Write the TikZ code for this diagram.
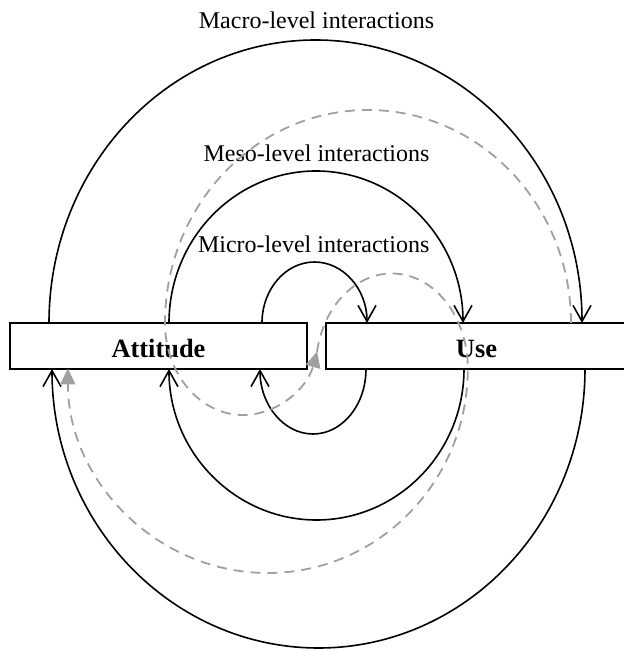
\documentclass[tikz,border=0pt]{standalone}
\usepackage{fontspec}
\setmainfont{Liberation Serif}
\usetikzlibrary{arrows.meta}
\definecolor{dashgray}{RGB}{160,160,160}
\begin{document}
\begin{tikzpicture}[x=0.5pt,y=0.5pt,
  box/.style={draw,line width=0.85pt,fill=white,minimum height=23pt,inner sep=0pt,
    font=\fontsize{13.2}{15}\selectfont\bfseries,text height=11.8pt,text depth=0pt},
  lvl/.style={anchor=base,font=\fontsize{12}{14}\selectfont,inner sep=0pt},
  link/.style={line width=0.8pt,-{Straight Barb[length=8pt,width=9pt]}},
  flow/.style={line width=0.9pt,draw=dashgray,dash pattern=on 5pt off 3.5pt,
    -{Triangle[length=8pt,width=7.5pt]}}]
\useasboundingbox (0,0) rectangle (624,650);

% boxes
\node[box,minimum width=148.5pt] (att) at (158.5,304) {Attitude};
\node[box,minimum width=150.5pt] (use) at (476.5,304) {Use};

% level labels
\node[lvl] (macro) at (316.5,621) {Macro-level interactions};
\node[lvl] (meso) at (316.5,488) {Meso-level interactions};
\node[lvl] (micro) at (313.7,398) {Micro-level interactions};

% connector ends on the boxes
\coordinate (maA) at (49,327);
\coordinate (maU) at (585,281);
\coordinate (meA) at (169,327);
\coordinate (meU) at (464,281);
\coordinate (miA) at (262,327);
\coordinate (miU) at (366,281);
\coordinate (dA) at (571,327);
\coordinate (dB) at (317,298);

% macro level
\draw[link] (maA) arc[start angle=180,end angle=0,x radius=266.5,y radius=283];
\draw[link] (maU) arc[start angle=0,end angle=-180,x radius=266.5,y radius=279];
% meso level
\draw[link] (meA) arc[start angle=180,end angle=0,x radius=147,y radius=152];
\draw[link] (meU) arc[start angle=0,end angle=-180,x radius=147.5,y radius=151];
% micro level
\draw[link] (miA) arc[start angle=180,end angle=0,x radius=52.5,y radius=61];
\draw[link] (miU) arc[start angle=0,end angle=-180,x radius=53,y radius=65];

% dashed spirals
\draw[flow] (dA) arc[start angle=0,end angle=180,x radius=203,y radius=213]
  arc[start angle=180,end angle=342,x radius=78,y radius=92];
\draw[flow] (dB) arc[start angle=170,end angle=0,x radius=76,y radius=95]
  arc[start angle=0,end angle=-180,x radius=200,y radius=204.5];
\end{tikzpicture}
\end{document}
